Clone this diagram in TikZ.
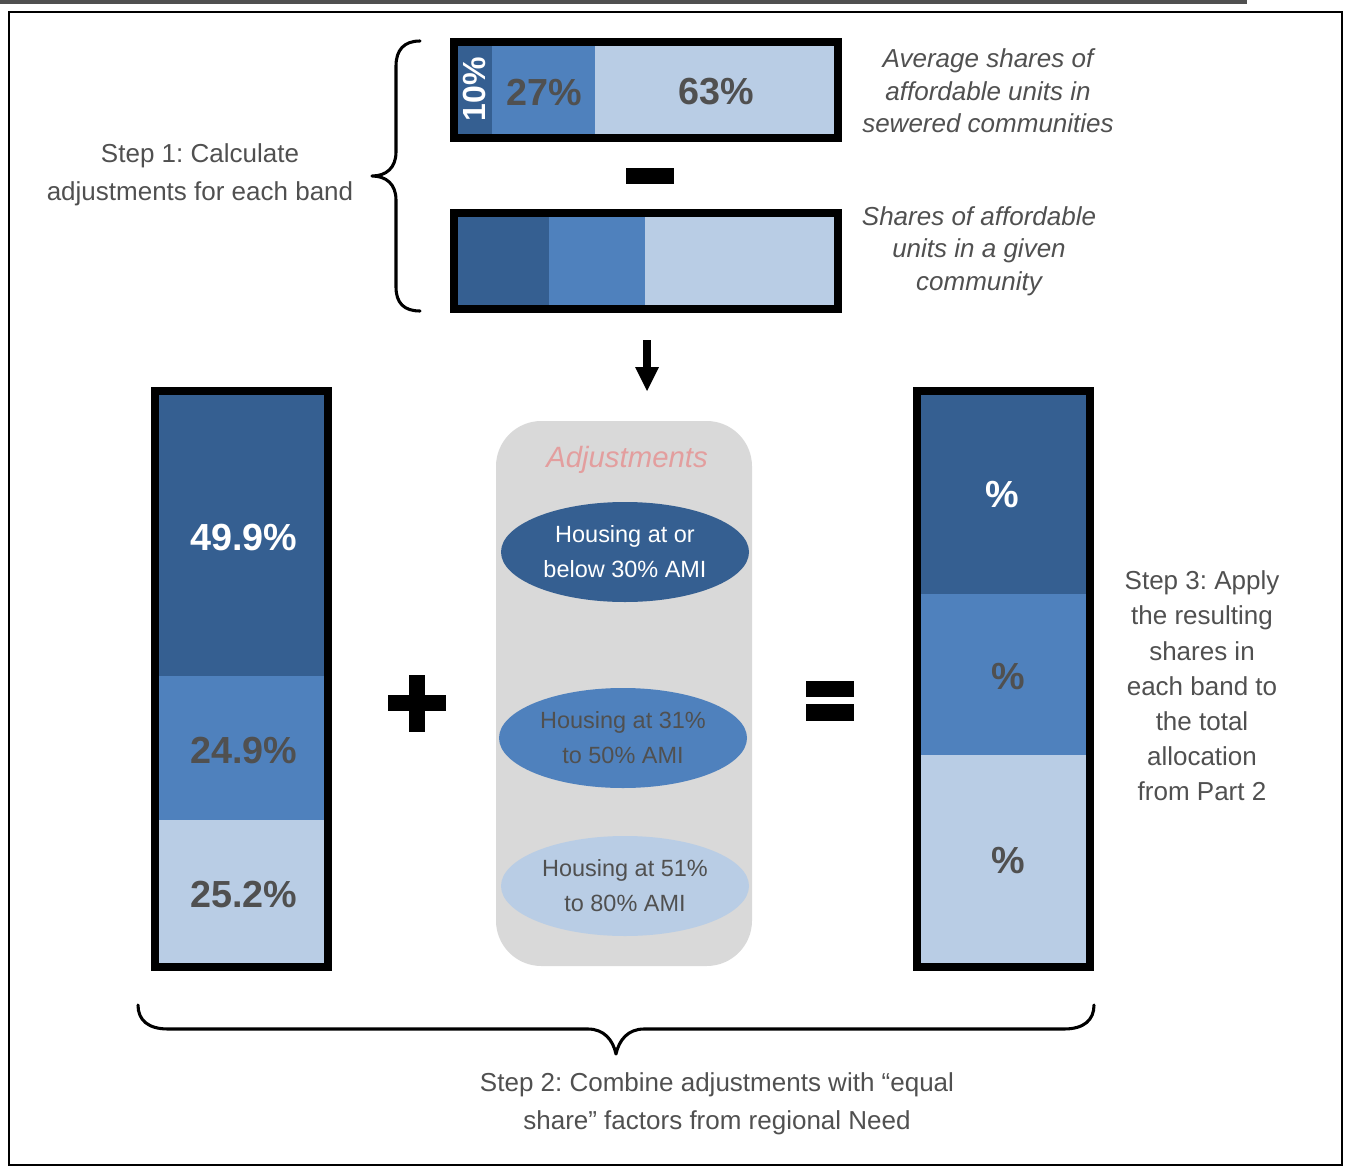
\documentclass[tikz,border=0pt]{standalone}
\usepackage{fontspec}
\setmainfont{Liberation Sans}
\usetikzlibrary{shapes.geometric}
\definecolor{dkblue}{HTML}{355F91}
\definecolor{mdblue}{HTML}{4F81BD}
\definecolor{ltblue}{HTML}{B9CDE5}
\definecolor{txtgray}{HTML}{505050}
\definecolor{boxgray}{HTML}{D9D9D9}
\definecolor{adjpink}{HTML}{E39E9E}
\begin{document}
\frenchspacing
\begin{tikzpicture}[x=0.75pt,y=-0.75pt,
  steptext/.style={text=txtgray, align=center, inner sep=0pt, font=\fontsize{19.5}{28.5}\selectfont},
  steptextb/.style={text=txtgray, align=center, inner sep=0pt, font=\fontsize{19.5}{26.4}\selectfont},
  ital/.style={text=txtgray, align=center, inner sep=0pt, font=\fontsize{19.5}{24.4}\selectfont\itshape},
  biglabel/.style={inner sep=0pt, font=\fontsize{28.3}{34}\selectfont\bfseries},
  ell/.style={ellipse, inner sep=0pt, minimum width=186pt, minimum height=75pt, align=center, font=\fontsize{17.6}{26.25}\selectfont},
  barborder/.style={draw=black, line width=6pt},
  brace/.style={draw=black, line width=2.3pt, line cap=round, line join=round}]
\useasboundingbox (0,0) rectangle (1347,1167);
% frame
\fill[txtgray] (0,0) rectangle (1247,4);
\draw[line width=2pt] (9,12) rectangle (1342,1165);

% ---- top bar 1
\fill[dkblue] (457,46) rectangle (492,134);
\fill[mdblue] (492,46) rectangle (595,134);
\fill[ltblue] (595,46) rectangle (834,134);
\draw[barborder] (453.5,42) rectangle (837.5,138);
\node[biglabel, text=white, font=\fontsize{24}{28}\selectfont\bfseries, rotate=90] (p10) at (474.5,89) {10\%};
\node[biglabel, text=txtgray] (p27) at (544,92) {27\%};
\node[biglabel, text=txtgray] (p63) at (716,92) {63\%};
% minus
\fill[black] (626,168) rectangle (674,184);
% ---- top bar 2
\fill[dkblue] (457,217) rectangle (549,305);
\fill[mdblue] (549,217) rectangle (645,305);
\fill[ltblue] (645,217) rectangle (834,305);
\draw[barborder] (453.5,213) rectangle (837.5,309);

% italic labels
\node[ital] (avg) at (988,91) {Average shares of\\affordable units in\\sewered communities};
\node[ital] (given) at (979,251) {Shares of affordable\\units in a given\\community};

% left brace and step 1
\draw[brace] (420,41) .. controls (404,41) and (396,50) .. (396,66)
  -- (396,152) .. controls (396,168) and (386,176) .. (372,176)
  .. controls (386,176) and (396,184) .. (396,200)
  -- (396,287) .. controls (396,303) and (404,311) .. (420,311);
\node[steptext] (step1) at (200,175) {Step 1: Calculate\\adjustments for each band};

% down arrow
\coordinate (arrS) at (647,340);
\coordinate (arrE) at (647,391);
\fill[black] (643,340) rectangle (651,368);
\fill[black] (635,367) -- (659,367) -- (arrE) -- cycle;

% ---- left bar
\fill[dkblue] (159,395) rectangle (324,676);
\fill[mdblue] (159,676) rectangle (324,820);
\fill[ltblue] (159,820) rectangle (324,963);
\draw[barborder] (155,391) rectangle (327.5,967);
\node[biglabel, text=white] (l1) at (244,538) {49.9\%};
\node[biglabel, text=txtgray] (l2) at (244,751) {24.9\%};
\node[biglabel, text=txtgray] (l3) at (244,895) {25.2\%};

% plus
\fill[black] (409,675) rectangle (425,732);
\fill[black] (388,695) rectangle (446,711);

% adjustments box
\fill[boxgray, rounded corners=34pt] (496,421) rectangle (752,966);
\node[text=adjpink, inner sep=0pt, font=\fontsize{22}{26}\selectfont\itshape] (adj) at (627,460) {Adjustments};
\node[ell, fill=dkblue, text=white] (e1) at (625,552) {Housing at or\\below 30\% AMI};
\node[ell, fill=mdblue, text=txtgray] (e2) at (623,738) {Housing at 31\%\\to 50\% AMI};
\node[ell, fill=ltblue, text=txtgray] (e3) at (625,886) {Housing at 51\%\\to 80\% AMI};

% equals
\fill[black] (806,681) rectangle (854,697);
\fill[black] (806,704) rectangle (854,721);

% ---- right bar
\fill[dkblue] (921,395) rectangle (1086,594);
\fill[mdblue] (921,594) rectangle (1086,755);
\fill[ltblue] (921,755) rectangle (1086,963);
\draw[barborder] (917,391) rectangle (1090,967);
\node[biglabel, text=white] (r1) at (1002,495) {\%};
\node[biglabel, text=txtgray] (r2) at (1008,677) {\%};
\node[biglabel, text=txtgray] (r3) at (1008,861) {\%};

% step 3
\node[steptextb] (step3) at (1202,686) {Step 3: Apply\\the resulting\\shares in\\each band to\\the total\\allocation\\from Part 2};

% bottom brace and step 2
\draw[brace] (138,1005) .. controls (138,1020) and (148,1029) .. (168,1029)
  -- (588,1029) .. controls (604,1029) and (613,1040) .. (616,1054)
  .. controls (619,1040) and (628,1029) .. (644,1029)
  -- (1064,1029) .. controls (1084,1029) and (1094,1020) .. (1094,1005);
\node[steptext] (step2) at (717,1104) {Step 2: Combine adjustments with “equal\\share” factors from regional Need};
\end{tikzpicture}
\end{document}
